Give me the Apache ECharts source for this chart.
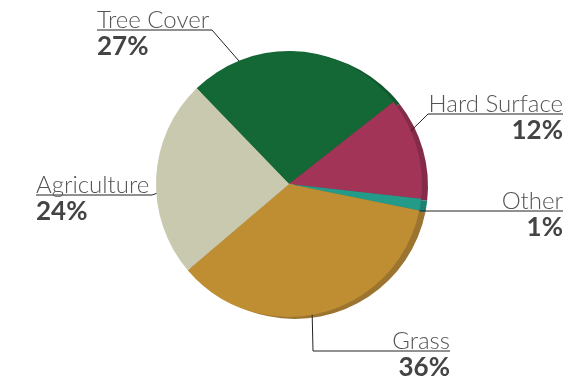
<!DOCTYPE html>
<html><head><meta charset="utf-8">
<script src="https://cdn.jsdelivr.net/npm/echarts@6/dist/echarts.min.js"></script>
<style>html,body{margin:0;padding:0;background:#fff}#c{width:568px;height:378px}</style>
</head><body><div id="c"></div>
<script>
const categories = ['Tree Cover', 'Hard Surface', 'Other', 'Grass', 'Agriculture'];
const shares = [26.6, 12.4, 1.4, 35.6, 24.0];
const faceColors = ['#146836', '#A13457', '#249A89', '#BF8D32', '#C9C9AF'];
const rimColors = ['#10582D', '#852B4A', '#1D7F71', '#9B7430', '#AEAE94'];

const CX = 289, CY = 184, R = 133, START = 134;
const labelSpec = {
  'Tree Cover':   { da: 18.6, f: 0.73, ex: 212, lx: 97,  uy: 30,  align: 'left' },
  'Hard Surface': { da: 0,    f: 0.75, ex: 428, lx: 563, uy: 114, align: 'right' },
  'Other':        { da: -3.5, f: 0.87, ex: null, lx: 563, uy: 211, align: 'right' },
  'Grass':        { da: -2.5, f: 0.82, ex: 313, lx: 450, uy: 351, align: 'right' },
  'Agriculture':  { da: 0,    f: 0.70, ex: 152, lx: 36,  uy: 195, align: 'left' }
};
const total = shares.reduce((a, b) => a + b, 0);

const chart = echarts.init(document.getElementById('c'), null, { renderer: 'canvas' });
chart.setOption({
  animation: false,
  series: [
    {
      type: 'pie', silent: true, z: 1,
      center: [CX + 6, CY + 2], radius: R,
      startAngle: START, clockwise: true,
      label: { show: false }, labelLine: { show: false },
      data: categories.map((n, i) => ({ name: n, value: shares[i], itemStyle: { color: rimColors[i] } }))
    },
    {
      type: 'pie', z: 2,
      center: [CX, CY], radius: R,
      startAngle: START, clockwise: true,
      itemStyle: { borderWidth: 0 },
      label: {
        show: true, position: 'outside', overflow: 'none',
        formatter: p => '{n|' + p.name + '}\n{p|' + Math.round(p.value) + '%}',
        rich: {
          n: { fontFamily: 'Lato', fontWeight: 300, fontSize: 24, lineHeight: 20, color: '#555' },
          p: { fontFamily: 'Lato', fontWeight: 'bold', fontSize: 26, lineHeight: 33, color: '#444' }
        }
      },
      labelLine: { show: true, lineStyle: { color: '#222', width: 1 } },
      labelLayout: function (params) {
        const i = params.dataIndex;
        const s = labelSpec[categories[i]];
        let before = 0;
        for (let k = 0; k < i; k++) before += shares[k];
        const mid = START - (before + shares[i] / 2) / total * 360 + s.da;
        const rad = mid * Math.PI / 180;
        const ax = CX + s.f * R * Math.cos(rad);
        const ay = CY - s.f * R * Math.sin(rad);
        const ex = s.ex == null ? ax : s.ex;
        return {
          x: s.lx, y: s.uy - 20, align: s.align, verticalAlign: 'top',
          labelLinePoints: [[ax, ay], [ex, s.uy], [s.lx, s.uy]]
        };
      },
      data: categories.map((n, i) => ({
        name: n, value: shares[i],
        itemStyle: { color: faceColors[i] },
        label: { align: labelSpec[n].align }
      }))
    }
  ]
});
</script></body></html>
